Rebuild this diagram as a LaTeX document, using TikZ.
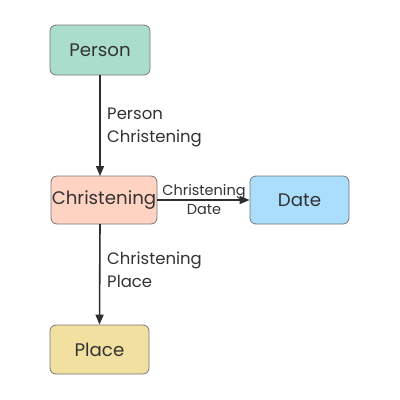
\documentclass[tikz,border=0pt]{standalone}
\usepackage{fontspec}
\setmainfont{Poppins}
\usetikzlibrary{arrows.meta}
\definecolor{txt}{HTML}{333333}
\definecolor{bord}{HTML}{777777}
\definecolor{cperson}{HTML}{AADDCC}
\definecolor{cchrist}{HTML}{FFD3C2}
\definecolor{cdate}{HTML}{AADEFC}
\definecolor{cplace}{HTML}{F1E0A0}
\begin{document}
\begin{tikzpicture}[x=1pt,y=-1pt,
  box/.style={draw=bord, line width=0.8pt, rounded corners=6pt, inner sep=0pt, text=txt,
    font=\fontsize{18.2}{22}\selectfont},
  lbl/.style={text=txt, font=\fontsize{16.5}{23}\selectfont, align=left, anchor=west, inner sep=0pt},
  slbl/.style={text=txt, font=\fontsize{14.5}{19}\selectfont, align=center, inner sep=0pt},
  conn/.style={draw=txt!90!black, line width=1.6pt, -{Triangle[length=10pt,width=8pt]}}]
\useasboundingbox (0,0) rectangle (400,400);
\fill[white] (0,0) rectangle (400,400);
\node[box, fill=cperson, minimum width=100pt, minimum height=50pt] (person) at (100,50) {Person};
\node[box, fill=cchrist, minimum width=106pt, minimum height=48pt] (christ) at (104,200) {Christening};
\node[box, fill=cdate, minimum width=99pt, minimum height=48pt] (date) at (299.5,200) {Date};
\node[box, fill=cplace, minimum width=99pt, minimum height=49pt] (place) at (99.5,349.5) {Place};
\coordinate (ct) at (100,176);
\coordinate (cb) at (100,224);
\draw[conn] (person.south) -- (ct);
\draw[conn] (cb) -- (place.north);
\draw[conn] (christ.east) -- (date.west);
\node[lbl] (l1) at (107,127.5) {Person\\Christening};
\node[lbl] (l2) at (107,270) {Christening\\Place};
\node[slbl] (l3) at (204,199.5) {Christening\\Date};
\end{tikzpicture}
\end{document}
